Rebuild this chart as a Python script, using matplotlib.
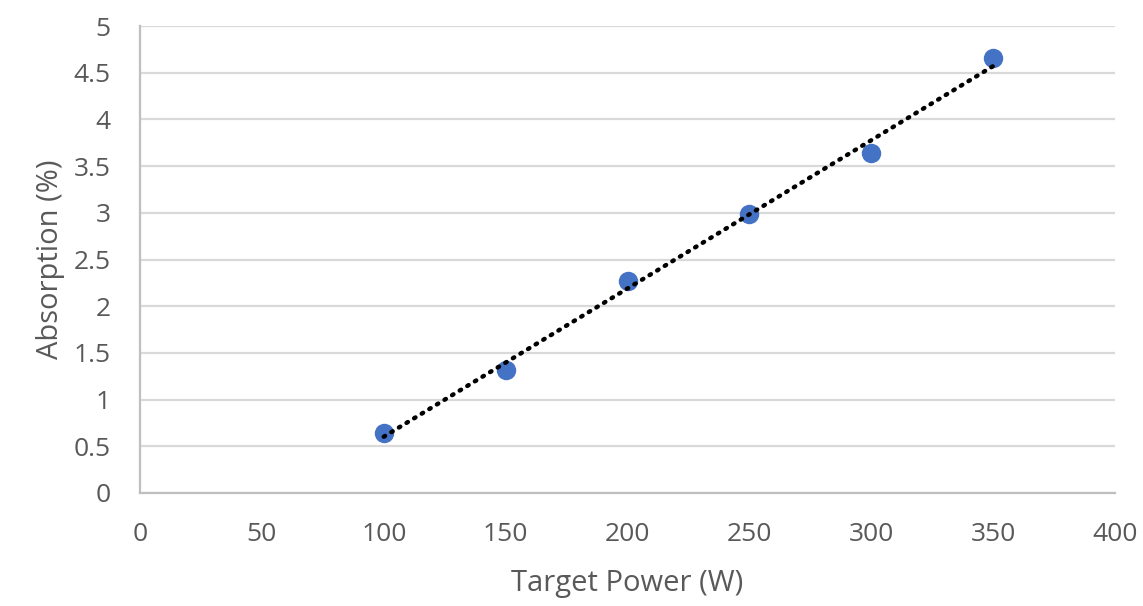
import numpy as np
import matplotlib
matplotlib.use("Agg")
import matplotlib.pyplot as plt

# Measured absorption versus target power
target_power = [100, 150, 200, 250, 300, 350]
absorption = [0.64, 1.32, 2.27, 2.99, 3.64, 4.66]

x_ticks = [0, 50, 100, 150, 200, 250, 300, 350, 400]
y_ticks = [0, 0.5, 1, 1.5, 2, 2.5, 3, 3.5, 4, 4.5, 5]
y_tick_labels = ["0", "0.5", "1", "1.5", "2", "2.5", "3", "3.5", "4", "4.5", "5"]

plt.rcParams["font.family"] = ["Open Sans", "DejaVu Sans"]
text_color = "#595959"
grid_color = "#d9d9d9"

fig = plt.figure(figsize=(11.43, 6.06), dpi=100)
ax = fig.add_axes([0.1225, 0.1865, 0.853, 0.7705])

ax.scatter(target_power, absorption, s=14 ** 2, color="#4472c4", zorder=3,
           linewidths=0)

# Linear trendline across the measured range
slope, intercept = np.polyfit(target_power, absorption, 1)
xs = np.array([min(target_power), max(target_power)])
ax.plot(xs, slope * xs + intercept, color="black", linewidth=3.2,
        linestyle=(0, (0.35, 1.65)), dash_capstyle="round", zorder=4)

ax.set_xlim(0, 400)
ax.set_ylim(0, 5)
ax.set_xticks(x_ticks)
ax.set_yticks(y_ticks)
ax.set_yticklabels(y_tick_labels)
ax.grid(axis="y", color=grid_color, linewidth=1.6)
ax.set_axisbelow(True)

for side in ("top", "right"):
    ax.spines[side].set_visible(False)
for side in ("left", "bottom"):
    ax.spines[side].set_color("#bfbfbf")
    ax.spines[side].set_linewidth(1.6)

ax.tick_params(axis="both", length=0, labelsize=19, labelcolor=text_color)
ax.tick_params(axis="x", pad=21)
ax.tick_params(axis="y", pad=21)

ax.set_xlabel("Target Power (W)", fontsize=21, color=text_color, labelpad=16)
ax.set_ylabel("Absorption (%)", fontsize=21, color=text_color, labelpad=6)

fig.savefig("out.png", dpi=100, facecolor="white")
